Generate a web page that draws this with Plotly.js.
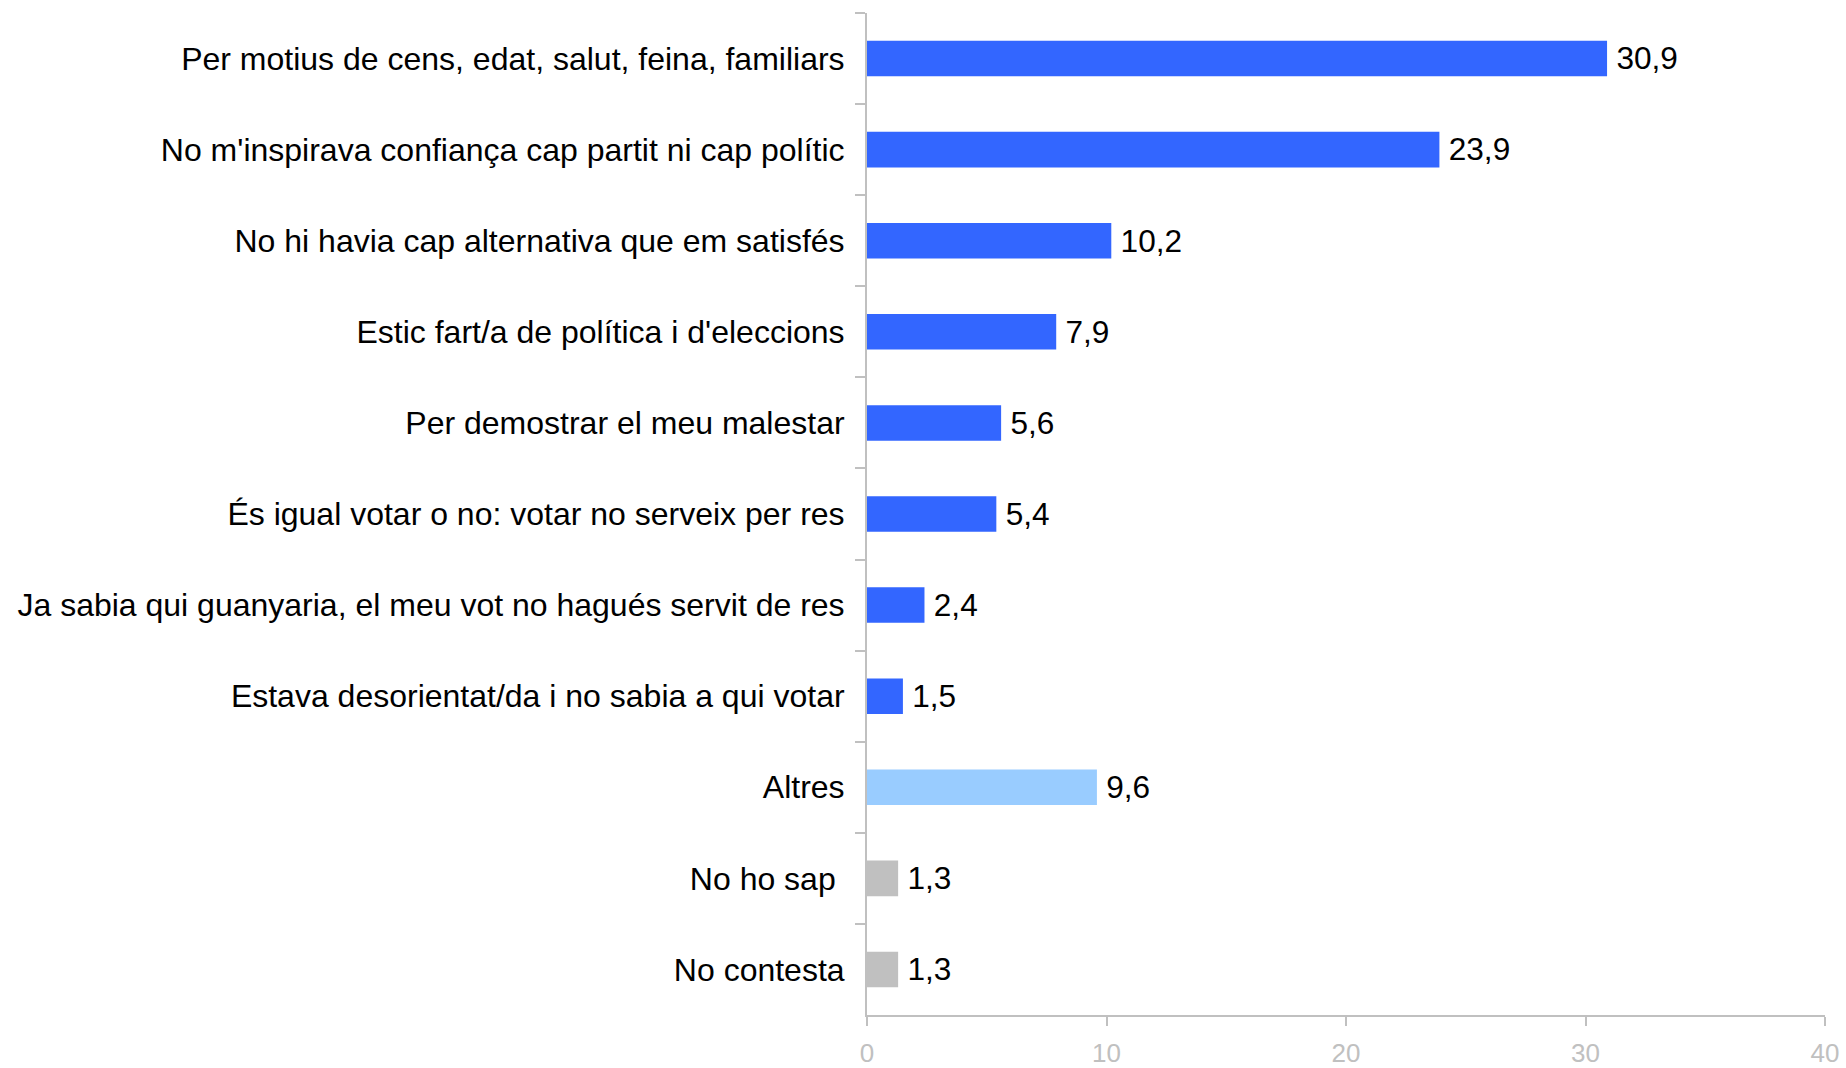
<!DOCTYPE html>
<html>
<head>
<meta charset="utf-8">
<script src="https://cdn.plot.ly/plotly-3.0.1.min.js"></script>
<style>html,body{margin:0;padding:0;background:#fff;}#chart{width:1846px;height:1068px;}</style>
</head>
<body>
<div id="chart"></div>
<script>
const categories = [
  "Per motius de cens, edat, salut, feina, familiars",
  "No m'inspirava confiança cap partit ni cap polític",
  "No hi havia cap alternativa que em satisfés",
  "Estic fart/a de política i d'eleccions",
  "Per demostrar el meu malestar",
  "És igual votar o no: votar no serveix per res",
  "Ja sabia qui guanyaria, el meu vot no hagués servit de res",
  "Estava desorientat/da i no sabia a qui votar",
  "Altres",
  "No ho sap ",
  "No contesta"
];
const values = [30.9, 23.9, 10.2, 7.9, 5.6, 5.4, 2.4, 1.5, 9.6, 1.3, 1.3];
const groups = ["main","main","main","main","main","main","main","main","other","dk","dk"];
const groupColors = {main: "#3366FF", other: "#99CCFF", dk: "#C0C0C0"};
const xTicks = [0, 10, 20, 30, 40];

const trace = {
  type: "bar",
  orientation: "h",
  y: categories,
  x: values,
  marker: {color: groups.map(g => groupColors[g])},
  texttemplate: "\u2009%{x:.1f}",
  textposition: "outside",
  cliponaxis: false,
  textfont: {family: "Liberation Sans, Arial, sans-serif", size: 32, color: "#000"},
  hoverinfo: "none"
};

const layout = {
  width: 1846, height: 1068,
  margin: {l: 867, r: 21, t: 13, b: 53},
  separators: ",.",
  paper_bgcolor: "#fff", plot_bgcolor: "#fff",
  bargap: 0.61,
  showlegend: false,
  font: {family: "Liberation Sans, Arial, sans-serif", size: 32, color: "#000"},
  xaxis: {
    range: [0, 40],
    tickvals: xTicks,
    ticktext: xTicks.map(String),
    showgrid: false, zeroline: false,
    showline: true, linecolor: "#C0C0C0", linewidth: 2,
    ticks: "outside", ticklen: 9, tickcolor: "#C0C0C0", tickwidth: 2,
    ticklabelstandoff: 5,
    tickfont: {size: 26, color: "#C0C0C0"}
  },
  yaxis: {
    type: "category",
    autorange: "reversed",
    showgrid: false, zeroline: false,
    showline: true, linecolor: "#C0C0C0", linewidth: 2,
    ticks: "outside", ticklen: 10, tickcolor: "#C0C0C0", tickwidth: 2,
    tickson: "boundaries",
    ticklabelstandoff: 14,
    tickfont: {size: 32, color: "#000"}
  }
};

Plotly.newPlot("chart", [trace], layout, {displayModeBar: false, staticPlot: true});
</script>
</body>
</html>
